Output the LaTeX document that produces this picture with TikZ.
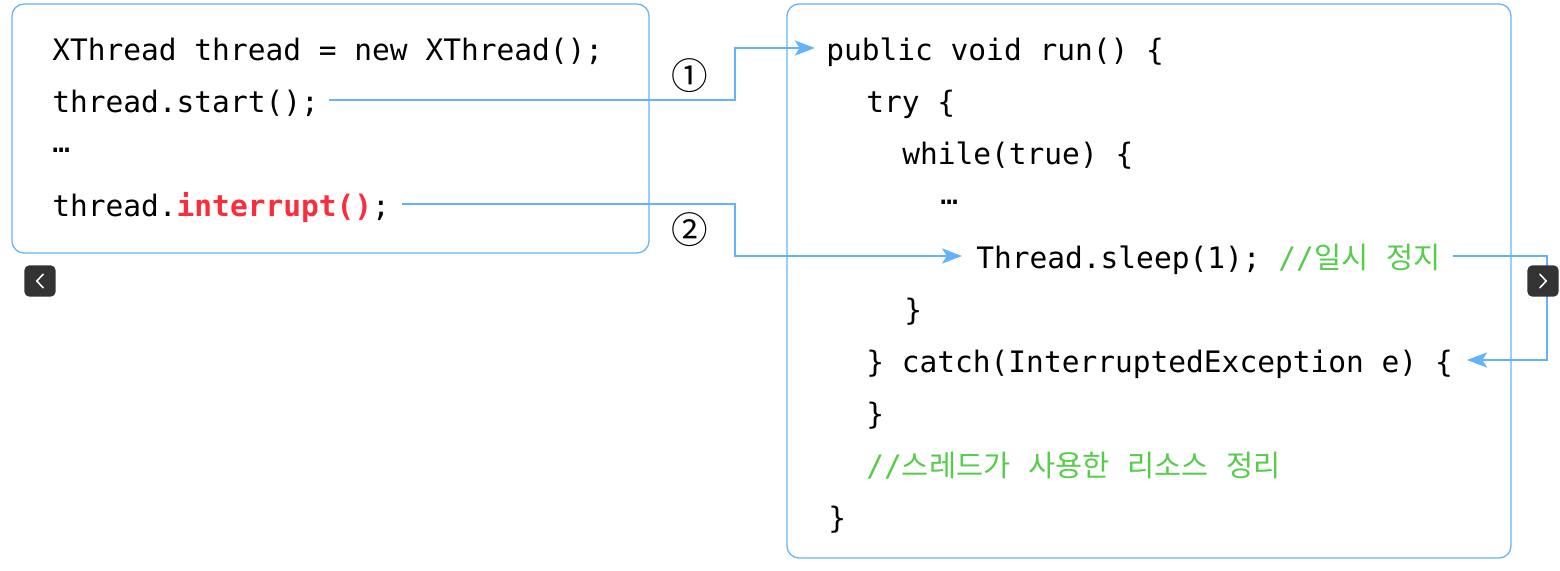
\documentclass[tikz,border=0pt]{standalone}
\usepackage{fontspec}
\setmonofont{DejaVu Sans Mono}
\newfontfamily\kr{Noto Sans CJK KR}
\usepackage{tikz}
\usetikzlibrary{arrows.meta}

\definecolor{boxblue}{RGB}{100,178,250}
\definecolor{keyred}{RGB}{250,45,60}
\definecolor{notegreen}{RGB}{85,205,75}
\definecolor{btngray}{RGB}{51,51,51}

\begin{document}
\begin{tikzpicture}[
    code/.style = {anchor=base west, inner sep=0, text height=0.6cm, text depth=0cm,
        font=\ttfamily\fontsize{21}{25}\selectfont},
    frame/.style = {draw=boxblue, line width=0.9pt, rounded corners=0.3cm},
    flow/.style = {draw=boxblue, line width=0.9pt,
        -{Stealth[length=0.5cm, width=0.38cm, inset=0.12cm]}},
    stepnum/.style = {inner sep=0, font=\kr\fontsize{26}{30}\selectfont},
    navbtn/.style = {fill=btngray, rounded corners=0.12cm, minimum size=0.78cm, inner sep=0},
    chev/.style = {white, line width=1.1pt, line cap=round, line join=round}]
    \useasboundingbox (0, 0) rectangle (39, -14.25);

    \draw[frame] (0.3, -0.1) rectangle (16.225, -6.325);
    \draw[frame] (19.675, -0.1) rectangle (37.775, -13.95);

    % main
    \node[code] (decl) at (1.3, -1.5) {XThread thread = new XThread();};
    \node[code] (start) at (1.3, -2.8) {thread.start();};
    \node[code] (ldots) at (1.3, -3.8) {…};
    \node[code] (intr) at (1.3, -5.4)
        {thread.{\color{keyred}\bfseries interrupt()};};

    % run()
    \node[code] (run) at (20.65, -1.5) {public void run() \{};
    \node[code] (try) at (21.65, -2.8) {try \{};
    \node[code] (loop) at (22.55, -4.1) {while(true) \{};
    \node[code] (rdots) at (23.5, -5.1) {…};
    \node[code] (sleep) at (24.4, -6.7)
        {Thread.sleep(1); {\color{notegreen}//{\kr 일시} {\kr 정지}}};
    \node[code] (loopend) at (22.6, -8.0) {\}};
    \node[code] (catch) at (21.65, -9.3) {\} catch(InterruptedException e) \{};
    \node[code] (catchend) at (21.65, -10.6) {\}};
    \node[code] (cleanup) at (21.65, -11.9)
        {\color{notegreen}//{\kr 스레드가} {\kr 사용한} {\kr 리소스} {\kr 정리}};
    \node[code] (runend) at (20.7, -13.2) {\}};

    \coordinate (bend) at (18.375, 0);
    \coordinate (rbend) at (38.675, 0);

    \draw[flow] ([xshift=0.25cm]start.east) -| (bend |- run.west)
        -- ([xshift=-0.28cm]run.west);
    \draw[flow] ([xshift=0.3cm]intr.east) -| (bend |- sleep.west)
        -- ([xshift=-0.35cm]sleep.west);
    \draw[flow] ([xshift=0.3cm]sleep.east) -| (rbend |- catch.east)
        -- ([xshift=0.35cm]catch.east);

    \node[stepnum] (num1) at (17.25, -1.9) {①};
    \node[stepnum] (num2) at (17.25, -5.75) {②};

    % 버튼
    \node[navbtn] (prev) at (1.0, -7.025) {};
    \draw[chev] ([shift={(0.08, 0.17)}]prev.center) -- ([shift={(-0.08, 0)}]prev.center)
        -- ([shift={(0.08, -0.17)}]prev.center);
    \node[navbtn] (next) at (38.575, -7.025) {};
    \draw[chev] ([shift={(-0.08, 0.17)}]next.center) -- ([shift={(0.08, 0)}]next.center)
        -- ([shift={(-0.08, -0.17)}]next.center);
\end{tikzpicture}
\end{document}
